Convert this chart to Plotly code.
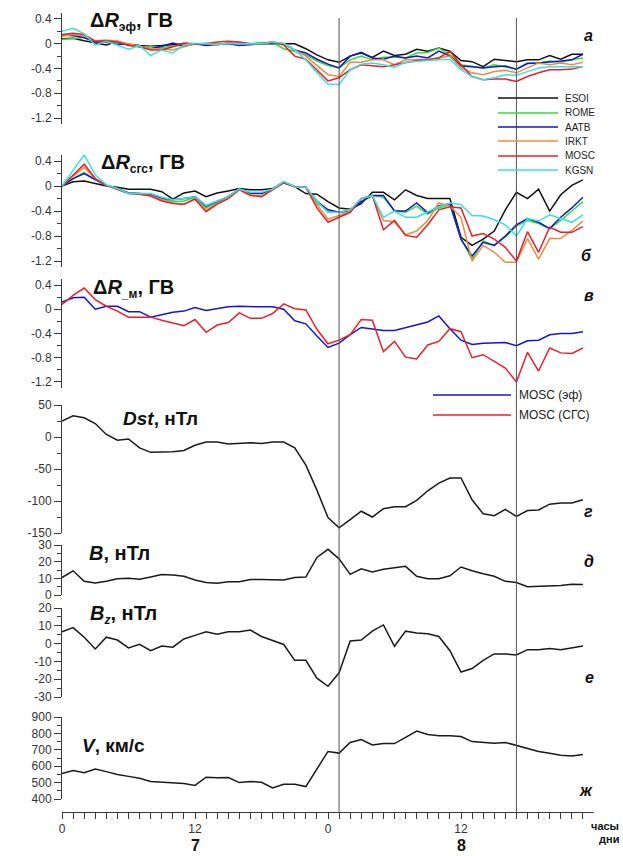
import plotly.graph_objects as go

# ---------------- data ----------------
hours = list(range(48))
event_hours = [25, 41]

stations = ["ESOI", "ROME", "AATB", "IRKT", "MOSC", "KGSN"]
station_colors = ["#111111", "#33dd33", "#1414d2", "#f08a3c", "#e8202a", "#33e3e3"]

# panel a: ΔR_eff (GV)
esoi_eff = [0.08, 0.09, 0.05, 0.01, -0.02, 0.04, -0.01, -0.03, -0.04, -0.03,
            -0.02, 0, -0.01, 0, 0, 0, 0.01, 0, 0, 0,
            0, 0, -0.08, -0.18, -0.26, -0.3, -0.2, -0.15, -0.22, -0.12,
            -0.19, -0.17, -0.09, -0.12, -0.07, -0.12, -0.27, -0.29, -0.37, -0.25,
            -0.27, -0.29, -0.26, -0.26, -0.19, -0.25, -0.17, -0.17]
rome_eff = [0.07, 0.09, 0.1, 0.03, 0.03, 0.02, -0.02, -0.05, -0.05, -0.06,
            -0.04, -0.02, 0, 0.01, 0, 0, 0.01, 0, 0.02, 0.02,
            -0.08, -0.12, -0.18, -0.28, -0.35, -0.39, -0.26, -0.2, -0.26, -0.22,
            -0.22, -0.23, -0.15, -0.14, -0.07, -0.18, -0.34, -0.37, -0.39, -0.34,
            -0.37, -0.41, -0.31, -0.31, -0.28, -0.3, -0.26, -0.23]
aatb_eff = [0.14, 0.13, 0.1, 0.03, 0.03, -0.01, -0.01, -0.05, -0.08, -0.04,
            0.01, -0.04, 0, -0.03, -0.02, 0, -0.03, -0.02, 0, 0.02,
            0, -0.1, -0.15, -0.25, -0.33, -0.39, -0.2, -0.14, -0.23, -0.25,
            -0.2, -0.23, -0.2, -0.23, -0.12, -0.2, -0.36, -0.37, -0.39, -0.37,
            -0.36, -0.41, -0.32, -0.31, -0.3, -0.28, -0.26, -0.17]
irkt_eff = [0.12, 0.15, 0.13, 0.05, 0.06, 0.04, 0, -0.04, -0.08, -0.08,
            -0.1, -0.05, 0, 0, -0.02, 0.02, 0, 0, 0, 0.03,
            0, -0.1, -0.2, -0.35, -0.5, -0.53, -0.3, -0.3, -0.26, -0.26,
            -0.34, -0.26, -0.26, -0.25, -0.23, -0.2, -0.39, -0.47, -0.5, -0.45,
            -0.43, -0.47, -0.39, -0.31, -0.34, -0.31, -0.34, -0.3]
mosc_eff = [0.15, 0.17, 0.15, 0.04, 0.05, 0.03, -0.03, -0.05, -0.1, -0.1,
            -0.05, 0.01, 0, 0, 0.03, 0.04, 0.03, 0, 0, 0.03,
            -0.02, -0.2, -0.25, -0.42, -0.6, -0.55, -0.42, -0.34, -0.36, -0.37,
            -0.34, -0.31, -0.27, -0.26, -0.23, -0.12, -0.34, -0.53, -0.58, -0.57,
            -0.57, -0.61, -0.53, -0.47, -0.42, -0.42, -0.41, -0.37]
kgsn_eff = [0.2, 0.25, 0.16, -0.02, 0.04, -0.02, -0.09, -0.03, -0.19, -0.1,
            -0.15, -0.02, 0.01, 0, -0.01, 0, 0, 0, 0, 0.03,
            0.01, -0.1, -0.26, -0.47, -0.65, -0.66, -0.42, -0.33, -0.31, -0.34,
            -0.38, -0.3, -0.28, -0.27, -0.26, -0.25, -0.42, -0.53, -0.58, -0.55,
            -0.5, -0.51, -0.45, -0.39, -0.37, -0.37, -0.37, -0.37]

# panel б: ΔR_sgs (GV)
esoi_sgs = [0, 0.07, 0.08, 0.04, 0, -0.02, -0.05, -0.05, -0.05, -0.09,
            -0.21, -0.11, -0.08, -0.17, -0.11, -0.08, -0.04, -0.06, -0.06, -0.04,
            0.06, -0.01, -0.12, -0.13, -0.25, -0.35, -0.37, -0.28, -0.1, -0.1,
            -0.22, -0.06, -0.15, -0.2, -0.2, -0.2, -0.82, -0.95, -0.85, -0.72,
            -0.38, -0.1, -0.2, -0.05, -0.4, -0.14, 0.01, 0.1]
rome_sgs = [0, 0.12, 0.22, 0.1, 0.01, -0.04, -0.11, -0.12, -0.13, -0.2,
            -0.25, -0.24, -0.18, -0.35, -0.26, -0.17, -0.05, -0.12, -0.12, -0.05,
            0.07, -0.01, -0.02, -0.27, -0.4, -0.42, -0.38, -0.25, -0.15, -0.18,
            -0.4, -0.42, -0.32, -0.45, -0.35, -0.3, -0.85, -1.17, -0.88, -0.95,
            -0.82, -0.64, -0.55, -0.6, -0.68, -0.55, -0.4, -0.25]
aatb_sgs = [0, 0.12, 0.2, 0.1, 0.01, -0.04, -0.11, -0.12, -0.13, -0.19,
            -0.22, -0.2, -0.17, -0.32, -0.24, -0.17, -0.05, -0.11, -0.12, -0.05,
            0.06, -0.01, -0.02, -0.24, -0.38, -0.42, -0.4, -0.25, -0.15, -0.15,
            -0.4, -0.4, -0.27, -0.43, -0.32, -0.28, -0.85, -1.12, -0.9, -0.95,
            -0.8, -0.62, -0.52, -0.58, -0.68, -0.5, -0.35, -0.18]
irkt_sgs = [0, 0.16, 0.3, 0.12, 0.01, -0.05, -0.12, -0.13, -0.15, -0.22,
            -0.27, -0.29, -0.2, -0.38, -0.28, -0.18, -0.05, -0.14, -0.16, -0.05,
            0.06, -0.01, -0.02, -0.3, -0.53, -0.47, -0.4, -0.2, -0.15, -0.55,
            -0.57, -0.78, -0.72, -0.55, -0.27, -0.32, -0.5, -1.2, -0.95, -1.06,
            -1.22, -1.22, -0.84, -1.17, -0.84, -0.84, -0.71, -0.56]
mosc_sgs = [0, 0.18, 0.35, 0.12, 0.01, -0.05, -0.12, -0.13, -0.16, -0.24,
            -0.28, -0.29, -0.21, -0.41, -0.29, -0.2, -0.06, -0.15, -0.17, -0.06,
            0.05, -0.01, -0.02, -0.35, -0.58, -0.5, -0.42, -0.2, -0.15, -0.7,
            -0.55, -0.79, -0.82, -0.62, -0.38, -0.33, -0.35, -0.8, -0.76, -0.85,
            -0.98, -1.2, -0.73, -1.06, -0.66, -0.74, -0.74, -0.65]
kgsn_sgs = [0, 0.25, 0.5, 0.18, 0.02, -0.04, -0.12, -0.12, -0.12, -0.18,
            -0.22, -0.2, -0.17, -0.31, -0.24, -0.17, -0.05, -0.1, -0.1, -0.05,
            0.07, -0.01, -0.02, -0.24, -0.42, -0.42, -0.38, -0.2, -0.15, -0.5,
            -0.4, -0.5, -0.5, -0.42, -0.33, -0.27, -0.3, -0.47, -0.48, -0.54,
            -0.62, -0.8, -0.52, -0.56, -0.46, -0.52, -0.58, -0.46]

# panel в: MOSC
mosc_names = ["MOSC (эф)", "MOSC (СГС)"]
mosc_colors = ["#1414d2", "#e8202a"]
mosc_m_eff = [0.12, 0.19, 0.2, 0, 0.05, 0.05, -0.04, -0.04, -0.13, -0.09,
              -0.05, -0.03, 0.03, -0.02, 0.01, 0.04, 0.05, 0.04, 0.04, 0.04,
              0, -0.19, -0.24, -0.44, -0.63, -0.56, -0.42, -0.3, -0.33, -0.35,
              -0.35, -0.3, -0.26, -0.21, -0.11, -0.32, -0.51, -0.58, -0.56, -0.55,
              -0.55, -0.6, -0.52, -0.51, -0.42, -0.4, -0.4, -0.37]
mosc_m_sgs = [0.08, 0.23, 0.35, 0.16, 0.05, -0.03, -0.13, -0.13, -0.13, -0.18,
              -0.22, -0.27, -0.17, -0.38, -0.26, -0.22, -0.06, -0.15, -0.15, -0.07,
              0.09, 0.01, -0.01, -0.33, -0.57, -0.51, -0.42, -0.17, -0.18, -0.7,
              -0.53, -0.79, -0.82, -0.59, -0.53, -0.32, -0.37, -0.8, -0.75, -0.86,
              -0.97, -1.2, -0.71, -1.02, -0.64, -0.72, -0.73, -0.64]

dst = [25, 33, 30, 21, 4, -5, -3, -17, -24, -24,
       -23, -21, -13, -8, -8, -11, -10, -9, -10, -8,
       -8, -17, -44, -83, -126, -142, -129, -116, -125, -112,
       -109, -109, -99, -84, -72, -64, -64, -98, -120, -123,
       -113, -124, -115, -114, -105, -103, -103, -98]
b_imf = [10.5, 14.5, 8.2, 7.2, 8.2, 9.7, 10, 9.4, 10.8, 12.3,
         12, 11.2, 9, 7.5, 7, 8, 8, 9.3, 9.3, 9,
         9, 10.5, 10.8, 22.5, 27.4, 21.7, 12.4, 15.7, 13.8, 15.4,
         16.5, 17.2, 11.2, 9.7, 9.7, 11.5, 16.8, 14.5, 12.7, 11.2,
         8.2, 7.5, 5, 5.2, 5.7, 5.7, 6.4, 6.3]
bz = [6.6, 9, 3.6, -3, 3.6, 2, -2.4, -0.4, -4, -1.4,
      -2, 2.6, 4.6, 6.6, 5.2, 6.6, 6.6, 7.6, 4, 1.6,
      -0.5, -9.4, -9.4, -19.4, -24, -16.4, 1.5, 2, 7, 10.5,
      -1.5, 7, 6, 5.5, 4, -4, -16, -14, -9.4, -5.8,
      -5.8, -6.4, -3.4, -3.4, -2.8, -3.4, -2.4, -1.4]
v_sw = [555, 574, 560, 583, 567, 550, 538, 526, 507, 502,
        500, 495, 483, 533, 529, 531, 500, 507, 502, 467,
        490, 490, 476, 580, 690, 680, 745, 762, 729, 738,
        738, 776, 814, 793, 786, 786, 781, 750, 745, 740,
        745, 726, 710, 690, 679, 667, 662, 671]

# tick labels
dr_ticks = [0.4, 0, -0.4, -0.8, -1.2]
dr_text = ["0.4", "0", "-0.4", "-0.8", "-1.2"]
dst_ticks = [50, 0, -50, -100, -150]
dst_text = ["50", "0", "-50", "-100", "-150"]
b_ticks = [30, 20, 10, 0]
b_text = ["30", "20", "10", "0"]
bz_ticks = [20, 10, 0, -10, -20, -30]
bz_text = ["20", "10", "0", "-10", "-20", "-30"]
v_ticks = [900, 800, 700, 600, 500, 400]
v_text = ["900", "800", "700", "600", "500", "400"]
hour_labels = {0: "0", 12: "12", 24: "0", 36: "12"}
day_labels = {12: "7", 36: "8"}

# ---------------- layout helpers ----------------
W, H = 623, 856
L, R = 62, 29
PW = W - L - R


def fx(px):
    return (px - L) / PW


def fy(py):
    return 1 - py / H


FONT = "Arial, Liberation Sans, sans-serif"
AX = "#3a3a3a"
TICKSIZE = 12

panels = [
    # (top px, bottom px, range, ticks, texts, minor)
    (12.8, 124.2, [-1.3, 0.5], dr_ticks, dr_text, [0.2, -0.2, -0.6, -1.0]),
    (154.8, 267.3, [-1.3, 0.5], dr_ticks, dr_text, [0.2, -0.2, -0.6, -1.0]),
    (279.0, 388.0, [-1.3, 0.5], dr_ticks, dr_text, [0.2, -0.2, -0.6, -1.0]),
    (405.0, 533.0, [-150, 50], dst_ticks, dst_text, [25, -25, -75, -125]),
    (545.0, 595.0, [0, 30], b_ticks, b_text, [25, 15, 5]),
    (608.0, 697.0, [-30, 20], bz_ticks, bz_text, [15, 5, -5, -15, -25]),
    (717.0, 799.0, [400, 900], v_ticks, v_text, [850, 750, 650, 550, 450]),
]

fig = go.Figure()

layout = dict(
    width=W, height=H,
    margin=dict(l=L, r=R, t=0, b=0, autoexpand=False),
    paper_bgcolor="white", plot_bgcolor="rgba(0,0,0,0)",
    showlegend=False,
    font=dict(family=FONT, size=12, color="#333"),
)

for i, (top, bot, rng, tv, tt, mv) in enumerate(panels, start=1):
    sx = "" if i == 1 else str(i)
    layout["yaxis" + sx] = dict(
        domain=[fy(bot), fy(top)], range=rng, anchor="x" + sx,
        tickmode="array", tickvals=tv, ticktext=tt,
        ticks="outside", ticklen=7, tickwidth=1, tickcolor=AX,
        minor=dict(tickmode="array", tickvals=mv, ticks="outside", ticklen=4, tickcolor=AX),
        showline=True, linecolor=AX, linewidth=1,
        showgrid=False, zeroline=False, automargin=False,
        tickfont=dict(size=TICKSIZE, color="#333", family=FONT),
    )
    if i < 7:
        layout["xaxis" + sx] = dict(domain=[0, 1], range=[0, 48], anchor="y" + sx,
                                    visible=False, showgrid=False, zeroline=False)
    else:
        layout["xaxis" + sx] = dict(
            domain=[0, 1], range=[0, 48], anchor="free", position=fy(812),
            tickmode="array", tickvals=hours,
            ticktext=[hour_labels.get(h, " ") for h in hours],
            ticks="outside", ticklen=6, tickwidth=1, tickcolor=AX,
            showline=True, linecolor=AX, linewidth=1,
            showgrid=False, zeroline=False, automargin=False,
            tickfont=dict(size=TICKSIZE, color="#333", family=FONT),
        )

# ---------------- traces ----------------
eff_series = [esoi_eff, rome_eff, aatb_eff, irkt_eff, mosc_eff, kgsn_eff]
sgs_series = [esoi_sgs, rome_sgs, aatb_sgs, irkt_sgs, mosc_sgs, kgsn_sgs]
for name, col, ys in zip(stations, station_colors, eff_series):
    fig.add_trace(go.Scatter(x=hours, y=ys, mode="lines", name=name,
                             line=dict(color=col, width=1.5), xaxis="x", yaxis="y"))
for name, col, ys in zip(stations, station_colors, sgs_series):
    fig.add_trace(go.Scatter(x=hours, y=ys, mode="lines", name=name,
                             line=dict(color=col, width=1.5), xaxis="x2", yaxis="y2"))
for name, col, ys in zip(mosc_names, mosc_colors, [mosc_m_eff, mosc_m_sgs]):
    fig.add_trace(go.Scatter(x=hours, y=ys, mode="lines", name=name,
                             line=dict(color=col, width=1.5), xaxis="x3", yaxis="y3"))
for k, ys in zip([4, 5, 6, 7], [dst, b_imf, bz, v_sw]):
    fig.add_trace(go.Scatter(x=hours, y=ys, mode="lines",
                             line=dict(color="#1a1a1a", width=1.5),
                             xaxis="x%d" % k, yaxis="y%d" % k))

# ---------------- shapes: event lines & legends ----------------
shapes = []
for eh in event_hours:
    shapes.append(dict(type="line", xref="x7", yref="paper", x0=eh, x1=eh,
                       y0=fy(812), y1=fy(18), line=dict(color="#555", width=1)))

annotations = []
leg1_y = [98, 113, 127, 141, 156, 170]
for name, col, yy in zip(stations, station_colors, leg1_y):
    shapes.append(dict(type="line", xref="paper", yref="paper", x0=fx(498), x1=fx(558),
                       y0=fy(yy), y1=fy(yy), line=dict(color=col, width=1.5)))
    annotations.append(dict(xref="paper", yref="paper", x=fx(563), y=fy(yy), text=name,
                            showarrow=False, xanchor="left", yanchor="middle",
                            font=dict(size=10, color="#222", family=FONT)))
leg2_y = [395, 415]
for name, col, yy in zip(mosc_names, mosc_colors, leg2_y):
    shapes.append(dict(type="line", xref="paper", yref="paper", x0=fx(433), x1=fx(511),
                       y0=fy(yy), y1=fy(yy), line=dict(color=col, width=1.5)))
    annotations.append(dict(xref="paper", yref="paper", x=fx(517), y=fy(yy), text=name,
                            showarrow=False, xanchor="left", yanchor="middle",
                            font=dict(size=12, color="#222", family=FONT)))

# ---------------- titles ----------------
SUB = "<sub><span style='font-size:12px'>%s</span></sub>"
titles = [
    ("<b>Δ<i>R</i>" + SUB % "эф" + ", ГВ</b>", 131, 21, 20),
    ("<b>Δ<i>R</i>" + SUB % "сгс" + ", ГВ</b>", 143, 163, 20),
    ("<b>Δ<i>R</i>" + SUB % "_м" + ", ГВ</b>", 133, 288, 20),
    ("<b><i>Dst</i>, нТл</b>", 160, 419, 19),
    ("<b><i>B</i>, нТл</b>", 119, 553, 20),
    ("<b><i>B</i>" + SUB % "<i>z</i>" + ", нТл</b>", 123, 614, 20),
    ("<b><i>V</i>, км/с</b>", 113, 745, 19),
]
for txt, xx, yy, fs in titles:
    annotations.append(dict(xref="paper", yref="paper", x=fx(xx), y=fy(yy), text=txt,
                            showarrow=False, xanchor="center", yanchor="middle",
                            font=dict(size=fs, color="#111", family=FONT)))

letters = [("а", 588, 36), ("б", 586, 255), ("в", 589, 295), ("г", 588, 512),
           ("д", 589, 561), ("е", 589, 677), ("ж", 586, 790)]
for txt, xx, yy in letters:
    annotations.append(dict(xref="paper", yref="paper", x=fx(xx), y=fy(yy),
                            text="<b><i>%s</i></b>" % txt, showarrow=False,
                            xanchor="center", yanchor="middle",
                            font=dict(size=16, color="#111", family=FONT)))

for h, txt in day_labels.items():
    annotations.append(dict(xref="x7", yref="paper", x=h, y=fy(845), text="<b>%s</b>" % txt,
                            showarrow=False, xanchor="center", yanchor="middle",
                            font=dict(size=16, color="#111", family=FONT)))
annotations.append(dict(xref="paper", yref="paper", x=fx(621), y=fy(826), text="<b>часы</b>",
                        showarrow=False, xanchor="right", yanchor="middle",
                        font=dict(size=11, color="#111", family=FONT)))
annotations.append(dict(xref="paper", yref="paper", x=fx(621), y=fy(839), text="<b>дни</b>",
                        showarrow=False, xanchor="right", yanchor="middle",
                        font=dict(size=11, color="#111", family=FONT)))

layout["shapes"] = shapes
layout["annotations"] = annotations
fig.update_layout(**layout)

fig.write_html("out.html", config={"displayModeBar": False},
               post_script="document.body.style.margin='0';")
